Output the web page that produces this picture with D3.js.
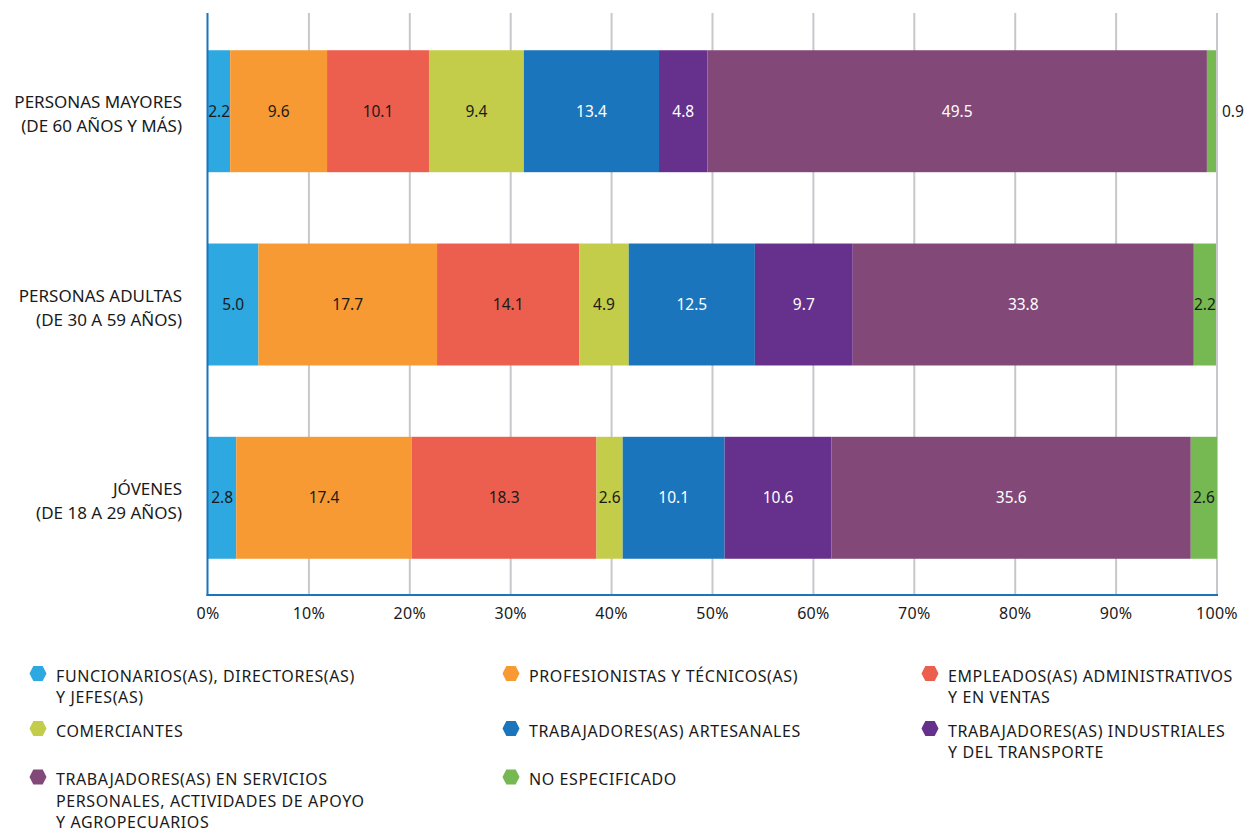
<!DOCTYPE html>
<html>
<head>
<meta charset="utf-8">
<script src="https://cdn.jsdelivr.net/npm/d3@7"></script>
<style>
  body { margin: 0; background: #fff; }
  text { font-family: "Noto Sans", sans-serif; fill: #1a1a1a; }
</style>
</head>
<body>
<svg id="chart" width="1247" height="831"></svg>
<script>
var groups = [
  ["PERSONAS MAYORES", "(DE 60 AÑOS Y MÁS)"],
  ["PERSONAS ADULTAS", "(DE 30 A 59 AÑOS)"],
  ["JÓVENES", "(DE 18 A 29 AÑOS)"]
];

var categories = [
  "FUNCIONARIOS(AS), DIRECTORES(AS)\nY JEFES(AS)",
  "PROFESIONISTAS Y TÉCNICOS(AS)",
  "EMPLEADOS(AS) ADMINISTRATIVOS\nY EN VENTAS",
  "COMERCIANTES",
  "TRABAJADORES(AS) ARTESANALES",
  "TRABAJADORES(AS) INDUSTRIALES\nY DEL TRANSPORTE",
  "TRABAJADORES(AS) EN SERVICIOS\nPERSONALES, ACTIVIDADES DE APOYO\nY AGROPECUARIOS",
  "NO ESPECIFICADO"
];

var colors = ["#2ea8e0", "#f79a33", "#ec5e4d", "#c3cd4a", "#1b75bc", "#66308d", "#824878", "#76b852"];
var label_colors = ["#1a1a1a", "#1a1a1a", "#1a1a1a", "#1a1a1a", "#fff", "#fff", "#fff", "#1a1a1a"];

var mayores = [2.2, 9.6, 10.1, 9.4, 13.4, 4.8, 49.5, 0.9];
var adultas = [5.0, 17.7, 14.1, 4.9, 12.5, 9.7, 33.8, 2.2];
var jovenes = [2.8, 17.4, 18.3, 2.6, 10.1, 10.6, 35.6, 2.6];
var series = [mayores, adultas, jovenes];

var ticks = [0, 10, 20, 30, 40, 50, 60, 70, 80, 90, 100];

var m_left = 208, m_right = 1217, m_top = 13, m_bottom = 595;
var svg = d3.select("#chart");

var x = d3.scaleLinear().domain([0, 100]).range([m_left, m_right]);
var y = d3.scaleBand().domain(d3.range(groups.length)).range([m_top + 1, m_bottom]).paddingInner(0.369).paddingOuter(0.1875);

// grid
svg.selectAll(".grid")
    .data(ticks.slice(1))
  .enter().append("line")
    .attr("x1", function(d){ return x(d); })
    .attr("x2", function(d){ return x(d); })
    .attr("y1", m_top)
    .attr("y2", m_bottom)
    .attr("stroke", "#c8c8cc")
    .attr("stroke-width", 2);

// bars
series.forEach(function(vals, gi){
  var cum = 0;
  var g = svg.append("g");
  var cy = y(gi) + y.bandwidth() / 2;
  vals.forEach(function(v, ci){
    var x0 = cum;
    cum += v;
    g.append("rect")
        .attr("x", x(x0))
        .attr("width", x(cum) - x(x0))
        .attr("y", y(gi))
        .attr("height", y.bandwidth())
        .attr("fill", colors[ci]);
    var outside = (x(cum) - x(x0)) < 14;
    g.append("text")
        .attr("x", outside ? x(cum) + 6 : (x(x0) + x(cum)) / 2)
        .attr("y", cy)
        .attr("dy", "0.36em")
        .attr("text-anchor", outside ? "start" : "middle")
        .style("font-size", "15.5px")
        .style("fill", outside ? "#1a1a1a" : label_colors[ci])
        .text(v.toFixed(1));
  });

  // group label
  groups[gi].forEach(function(line, li){
    svg.append("text")
        .attr("x", 182)
        .attr("y", cy - 3 + li * 24)
        .attr("text-anchor", "end")
        .style("font-size", "17px")
        .text(line);
  });
});

// axis lines
svg.append("line")
    .attr("x1", m_left - 0.5).attr("x2", m_left - 0.5)
    .attr("y1", m_top).attr("y2", m_bottom + 1)
    .attr("stroke", "#1b75bc").attr("stroke-width", 2);
svg.append("line")
    .attr("x1", m_left - 1.5).attr("x2", m_right + 1)
    .attr("y1", m_bottom).attr("y2", m_bottom)
    .attr("stroke", "#1b75bc").attr("stroke-width", 2);

// tick labels
svg.selectAll(".tick")
    .data(ticks)
  .enter().append("text")
    .attr("class", "tick")
    .attr("x", function(d){ return x(d); })
    .attr("y", 619)
    .attr("text-anchor", "middle")
    .style("font-size", "16px")
    .style("letter-spacing", "0.3px")
    .text(function(d){ return d + "%"; });

// legend
var leg_x = [38, 511, 930];
var leg_y = [681.5, 736.5, 785];

function hexPoints(cx, cy){
  var w = 8.5, h = 7.5, s = 4.7;
  return [[cx - w, cy], [cx - s, cy - h], [cx + s, cy - h], [cx + w, cy], [cx + s, cy + h], [cx - s, cy + h]]
    .map(function(p){ return p.join(","); }).join(" ");
}

categories.forEach(function(c, i){
  var col = i % 3, row = Math.floor(i / 3);
  var lx = leg_x[col], ly = leg_y[row];
  svg.append("polygon")
      .attr("points", hexPoints(lx, ly - 8))
      .attr("fill", colors[i]);
  c.split("\n").forEach(function(line, li){
    svg.append("text")
        .attr("x", lx + 18)
        .attr("y", ly + li * 21.7)
        .style("font-size", "16px")
        .style("letter-spacing", "0.6px")
        .text(line);
  });
});
</script>
</body>
</html>
